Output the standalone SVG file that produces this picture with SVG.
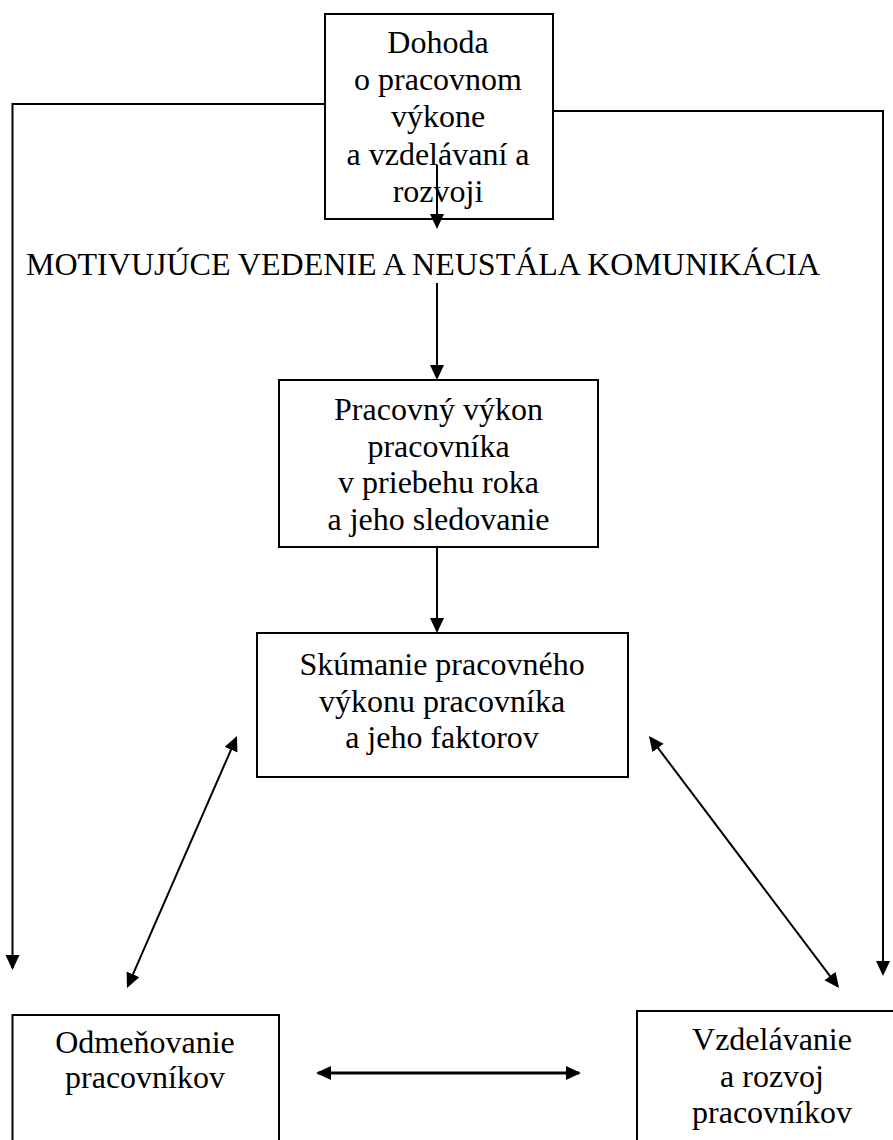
<svg xmlns="http://www.w3.org/2000/svg" width="893" height="1140" viewBox="0 0 893 1140">
  <style>
    .box { fill: #fff; stroke: #000; stroke-width: 2; }
    text { font-family: 'Liberation Serif', 'Times New Roman', Tinos, serif; font-size: 32px; fill: #000; }
    .lbl { text-anchor: middle; }
    .wire { fill: none; stroke: #000; stroke-width: 2; }
    .arr { marker-end: url(#head); }
    .both { marker-start: url(#head); marker-end: url(#head); }
  </style>
  <defs>
    <marker id="head" markerUnits="userSpaceOnUse" markerWidth="16" markerHeight="15" refX="13" refY="7" orient="auto-start-reverse" viewBox="0 0 16 15">
      <path d="M0,0 L15,7 L0,14 Z" fill="#000"/>
    </marker>
  </defs>
  <rect width="893" height="1140" fill="#fff"/>

  <!-- connectors -->
  <g id="connectors">
    <polyline class="wire arr" points="325,104 12.5,104 12.5,968"/>
    <polyline class="wire arr" points="553,111 883,111 883,974"/>
    <line class="wire arr" x1="437" y1="283" x2="437" y2="378"/>
    <line class="wire arr" x1="437" y1="547" x2="437" y2="631"/>
    <line class="wire both" x1="236.2" y1="737.8" x2="127.8" y2="986.2"/>
    <line class="wire both" x1="650.2" y1="737.6" x2="837.8" y2="986.4"/>
    <line class="wire both" x1="318" y1="1073" x2="579" y2="1073" style="stroke-width:3"/>
  </g>

  <!-- agreement node -->
  <g id="node-dohoda">
    <rect class="box" x="325" y="14" width="228" height="205"/>
    <text class="lbl" x="438" y="53">Dohoda</text>
    <text class="lbl" x="438" y="90">o pracovnom</text>
    <text class="lbl" x="438" y="127">výkone</text>
    <text class="lbl" x="438" y="165">a vzdelávaní a</text>
    <text class="lbl" x="438" y="202">rozvoji</text>
  </g>

  <!-- arrow from agreement node, drawn over its text -->
  <g id="connector-dohoda">
    <line class="wire arr" x1="437" y1="165" x2="437" y2="227"/>
  </g>

  <!-- heading -->
  <g id="node-motivacia">
    <text x="26" y="275">MOTIVUJÚCE VEDENIE A NEUSTÁLA KOMUNIKÁCIA</text>
  </g>

  <g id="node-vykon">
    <rect class="box" x="279" y="380" width="319" height="167"/>
    <text class="lbl" x="438.5" y="420">Pracovný výkon</text>
    <text class="lbl" x="438.5" y="457">pracovníka</text>
    <text class="lbl" x="438.5" y="493">v priebehu roka</text>
    <text class="lbl" x="438.5" y="530">a jeho sledovanie</text>
  </g>

  <g id="node-skumanie">
    <rect class="box" x="257" y="633" width="371" height="144"/>
    <text class="lbl" x="442" y="675">Skúmanie pracovného</text>
    <text class="lbl" x="442" y="712">výkonu pracovníka</text>
    <text class="lbl" x="442" y="748">a jeho faktorov</text>
  </g>

  <g id="node-odmenovanie">
    <rect class="box" x="12.5" y="1015" width="266.5" height="140"/>
    <text class="lbl" x="145" y="1053">Odmeňovanie</text>
    <text class="lbl" x="145" y="1088">pracovníkov</text>
  </g>

  <g id="node-vzdelavanie">
    <rect class="box" x="637" y="1011" width="270" height="140"/>
    <text class="lbl" x="772" y="1050">Vzdelávanie</text>
    <text class="lbl" x="772" y="1087">a rozvoj</text>
    <text class="lbl" x="772" y="1123">pracovníkov</text>
  </g>
</svg>
